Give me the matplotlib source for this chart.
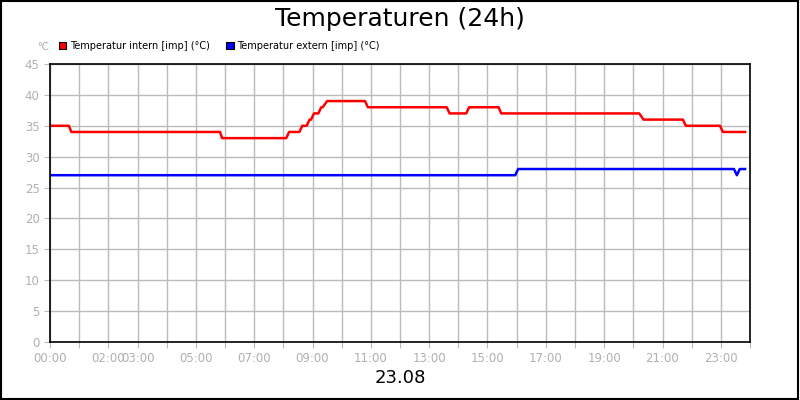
import matplotlib
matplotlib.use("Agg")
import matplotlib.pyplot as plt
from matplotlib.patches import Rectangle

# hours of day, temperatures in degC
intern_h = [0, 0.65, 0.73, 5.83, 5.9, 8.1, 8.2, 8.55, 8.65, 8.8, 8.9, 8.95, 9.05, 9.2, 9.3, 9.35,
            9.5, 10.8, 10.9, 13.6, 13.7, 14.27, 14.37, 15.38, 15.47, 20.2, 20.35, 21.7, 21.8,
            22.97, 23.07, 23.83]
intern_t = [35, 35, 34, 34, 33, 33, 34, 34, 35, 35, 36, 36, 37, 37, 38, 38,
            39, 39, 38, 38, 37, 37, 38, 38, 37, 37, 36, 36, 35,
            35, 34, 34]
extern_h = [0, 15.95, 16.05, 23.45, 23.55, 23.65, 23.83]
extern_t = [27, 27, 28, 28, 27, 28, 28]

tick_pos = [0, 2, 3, 5, 7, 9, 11, 13, 15, 17, 19, 21, 23]
tick_lbl = ["00:00", "02:00", "03:00", "05:00", "07:00", "09:00", "11:00",
            "13:00", "15:00", "17:00", "19:00", "21:00", "23:00"]

fig = plt.figure(figsize=(8, 4), dpi=100)
ax = fig.add_axes([0.0625, 0.145, 0.875, 0.695])
ax.plot(intern_h, intern_t, color="#ff0000", lw=1.8)
ax.plot(extern_h, extern_t, color="#0000ff", lw=1.8)
ax.set_xlim(0, 24)
ax.set_ylim(0, 45)
ax.set_yticks(range(0, 46, 5))
ax.set_xticks(range(0, 25))
ax.set_xticklabels([tick_lbl[tick_pos.index(h)] if h in tick_pos else "" for h in range(25)])
ax.grid(True, color="#bbbbbb", lw=1)
ax.set_axisbelow(True)
ax.tick_params(colors="#bbbbbb", labelsize=8.5, length=4, labelcolor="#b0b0b0")
for s in ax.spines.values():
    s.set_color("black")
    s.set_linewidth(1.2)

fig.text(0.5, 0.953, "Temperaturen (24h)", ha="center", va="center", fontsize=18)
fig.text(0.5, 0.055, "23.08", ha="center", va="center", fontsize=13)
fig.text(0.053, 0.882, "°C", ha="center", va="center", fontsize=7, color="#aaaaaa")

fig.patches.append(Rectangle((0.074, 0.877), 0.009, 0.018, transform=fig.transFigure,
                             facecolor="#ff0000", edgecolor="black", lw=0.8))
fig.text(0.087, 0.886, "Temperatur intern [imp] (°C)", va="center", fontsize=7)
fig.patches.append(Rectangle((0.283, 0.877), 0.009, 0.018, transform=fig.transFigure,
                             facecolor="#0000ff", edgecolor="black", lw=0.8))
fig.text(0.296, 0.886, "Temperatur extern [imp] (°C)", va="center", fontsize=7)

fig.patches.append(Rectangle((0.001, 0.002), 0.997, 0.995, transform=fig.transFigure,
                             facecolor="none", edgecolor="black", lw=1.5))
fig.savefig("out.png", dpi=100)
